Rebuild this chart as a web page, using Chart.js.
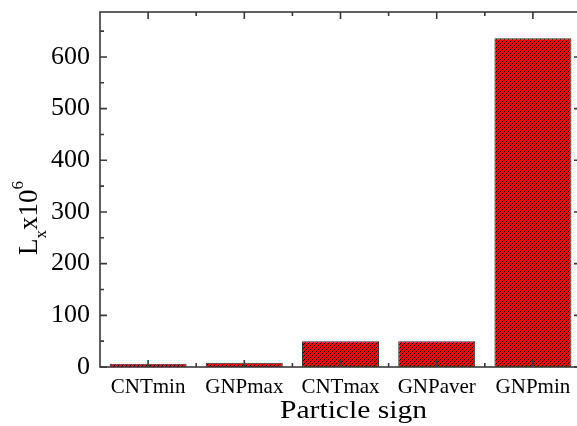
<!DOCTYPE html>
<html>
<head>
<meta charset="utf-8">
<script src="https://cdn.jsdelivr.net/npm/chart.js@4"></script>
<style>
  html, body { margin: 0; padding: 0; background: #fff; overflow: hidden; }
  #box { width: 582px; height: 426px; }
</style>
</head>
<body>
<div id="box"><canvas id="myChart"></canvas></div>
<script>
// donnees
const particles = ["CNTmin", "GNPmax", "CNTmax", "GNPaver", "GNPmin"];
const lxValues = [6.5, 8, 50, 50, 636];
const yMax = 687;
const yStep = 100;
const yMinorStep = 50;

const serif = "'Liberation Serif', 'Times New Roman', serif";
const axisColor = "#3a3a3a";

// motif hachure rouge / noir
function hatch() {
  const c = document.createElement("canvas");
  c.width = 4; c.height = 4;
  const g = c.getContext("2d");
  g.fillStyle = "#ff0000";
  g.fillRect(0, 0, 4, 4);
  g.strokeStyle = "#000";
  g.lineWidth = 1.0;
  g.beginPath();
  g.moveTo(-1, 5); g.lineTo(5, -1);
  g.moveTo(-1, 1); g.lineTo(1, -1);
  g.moveTo(3, 5); g.lineTo(5, 3);
  g.stroke();
  return g.createPattern(c, "repeat");
}

// cadre, graduations vers l'interieur et titres
const frame = {
  id: "frame",
  afterDraw(chart) {
    const ctx = chart.ctx;
    const a = chart.chartArea;
    const x = chart.scales.x, y = chart.scales.y;
    ctx.save();
    ctx.strokeStyle = axisColor;
    ctx.lineWidth = 1.6;
    ctx.strokeRect(a.left, a.top, a.right - a.left, a.bottom - a.top);
    ctx.beginPath();
    for (let v = 0; v <= yMax; v += yMinorStep) {
      const py = y.getPixelForValue(v);
      const len = v % yStep === 0 ? 7 : 4;
      ctx.moveTo(a.left, py); ctx.lineTo(a.left + len, py);
      ctx.moveTo(a.right, py); ctx.lineTo(a.right - len, py);
    }
    const half = (x.getPixelForValue(1) - x.getPixelForValue(0)) / 2;
    particles.forEach((p, i) => {
      const px = x.getPixelForValue(i);
      ctx.moveTo(px, a.bottom); ctx.lineTo(px, a.bottom - 7);
      ctx.moveTo(px, a.top); ctx.lineTo(px, a.top + 7);
      if (i > 0) {
        ctx.moveTo(px - half, a.bottom); ctx.lineTo(px - half, a.bottom - 4);
        ctx.moveTo(px - half, a.top); ctx.lineTo(px - half, a.top + 4);
      }
    });
    ctx.stroke();

    // titre axe x
    ctx.fillStyle = "#000";
    ctx.font = "25px " + serif;
    ctx.textBaseline = "alphabetic";
    const t = "Particle sign";
    const w = ctx.measureText(t).width;
    ctx.save();
    ctx.translate(280, 418);
    ctx.scale(147 / w, 1);
    ctx.fillText(t, 0, 0);
    ctx.restore();

    // titre axe y : L_x x10^6
    ctx.save();
    ctx.translate(37, 255);
    ctx.rotate(-Math.PI / 2);
    ctx.textAlign = "left";
    let cx = 0;
    ctx.font = "27px " + serif;
    ctx.fillText("L", cx, 0); cx += ctx.measureText("L").width;
    ctx.font = "17px " + serif;
    ctx.fillText("x", cx, 9); cx += ctx.measureText("x").width;
    ctx.font = "27px " + serif;
    ctx.fillText("x10", cx, 0); cx += ctx.measureText("x10").width;
    ctx.font = "17px " + serif;
    ctx.fillText("6", cx, -14);
    ctx.restore();
    ctx.restore();
  }
};

const ctx = document.getElementById("myChart").getContext("2d");
const myChart = new Chart(ctx, {
  type: "bar",
  data: {
    labels: particles,
    datasets: [{
      label: "Lx",
      data: lxValues,
      backgroundColor: hatch(),
      borderColor: "#333",
      borderWidth: 1,
      barPercentage: 0.8,
      categoryPercentage: 1.0
    }]
  },
  options: {
    responsive: true,
    maintainAspectRatio: false,
    animation: false,
    layout: { padding: { top: 12, right: 1, left: 0, bottom: 0 } },
    plugins: {
      legend: { display: false },
      tooltip: { enabled: false }
    },
    scales: {
      x: {
        offset: true,
        grid: { display: false, drawTicks: false },
        border: { display: false },
        ticks: { color: "#000", font: { family: serif, size: 21 }, padding: 8, maxRotation: 0 },
        afterFit: (s) => { s.height = 59; s.paddingLeft = 0; s.paddingRight = 0; }
      },
      y: {
        min: 0,
        max: yMax,
        grid: { display: false, drawTicks: false },
        border: { display: false },
        ticks: { stepSize: yStep, includeBounds: false, color: "#000", font: { family: serif, size: 26 }, padding: 10 },
        afterFit: (s) => { s.width = 100; s.paddingTop = 0; s.paddingBottom = 0; }
      }
    }
  },
  plugins: [frame]
});
</script>
</body>
</html>
